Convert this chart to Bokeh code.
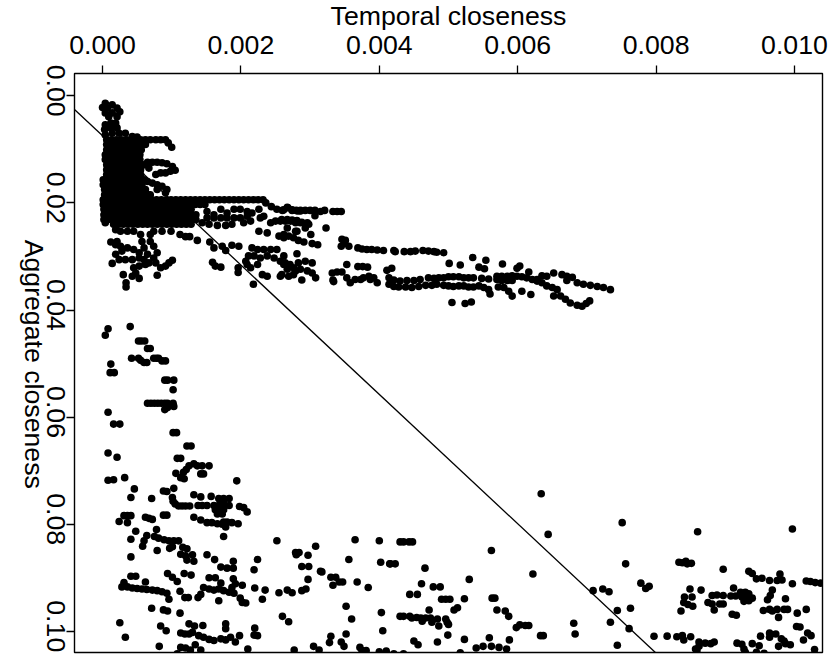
import math
from bokeh.plotting import figure
from bokeh.models import Range1d, FixedTicker, NumeralTickFormatter, CustomJSTickFormatter, Title, LinearAxis
from bokeh.embed import file_html
from bokeh.resources import INLINE

# Values: temporal closeness in 1e-5, aggregate closeness in 1e-4
top_tip = [(4,14),(0,22),(7,23),(14,17),(21,23),(25,30),(4,32),(14,32),(21,39),(9,39),(4,54),(12,51),(19,51),(3,63),(12,60),(21,60),(4,73),(14,70),(24,70),(33,70),(43,76),(50,77)]
dense_rows = [
 (82,[6,13,20,27,35,42,49,55,62,69,77,84,91]),
 (91,[6,13,20,27,35,42,49,55,62]),
 (101,[6,13,20,27,35,42,49,56]),
 (110,[4,11,18,25,33,40,47,54]),
 (119,[4,11,18,25,33,40,47,54]),
 (129,[6,13,20,27,35,42,49,56,60]),
 (138,[6,13,20,27,35,42,49,55]),
 (147,[6,13,20,27,35,42,49,55]),
 (157,[1,8,15,22,29,36,43,50,57,60]),
 (166,[1,8,15,22,29,36,43,50,57]),
 (175,[3,10,17,24,31,38,45,52,59,62]),
 (185,[3,10,17,24,31,38,45,52,59,66,69]),
 (194,[1,8,15,22,29,36,43,50,57,64,71,78,85,92,99,106,113,120,127,134,141,148,155,162,169,176,183,190,197,204,211,218,225,232]),
 (203,[1,8,15,22,29,36,43,50,57,64,71,78,85,92,99,106,113,120,127,134,141,148]),
 (212,[2,9,16,23,30,37,44,51,58,65,72,79,86,93,100,107,114,121,128]),
 (222,[2,9,16,23,30,37,44,51,58,65,72,79,86,93,100,107,114,121,128,135]),
 (231,[2,9,16,23,30,37,44,51,58,65,72,79,86,93,100,107,114,121,128,135]),
 (240,[16,23,30,37,44,51,58,65,72,79,86,93,100,107,114,121,128]),
]
tails = [(95,88),(100,96),(65,124),(72,124),(79,124),(86,125),(93,127),(101,132),(105,139),(98,141),(91,144),(84,144),(77,147),(67,135),(65,160),(72,163),(79,166),(86,169),(93,175),(91,181),(79,175),(4,237),(236,200)]
band_holes = [(151,216),(161,222),(171,212),(180,219),(190,212),(199,212),(209,216),(216,219),(226,212),(151,228),(161,228),(171,228),(180,228),(190,228),(199,228),(209,225),(144,237),(154,240),(166,242),(178,242),(187,240),(204,237),(214,234),
 (244,207),(252,212),(260,214),(267,208),(274,214),(282,215),(286,215),(233,225),(228,228),(243,237),(250,234),(257,234),(264,234),(272,234),(279,237),(286,237),(226,253),(238,256),(281,253),(255,262),(262,265)]
mid_cluster = [(216,284),(224,287),(233,287),(243,287),(252,287),(211,299),(219,299),(228,303),(238,299),(248,303),(209,315),(214,321),(207,309),(224,315),(231,334),(238,337),(257,337),(262,315),(196,330),(196,321),(218,352)]
below_band = [(74,253),(86,253),(99,253),(112,259),(120,263),(126,263),(137,270),(155,273),(161,284),(173,281),(178,289),(187,279),(197,281),(159,311),(163,318),(171,320),(74,281),(79,293),(79,335),(101,307),(96,312),(91,318),(84,321),(77,312),(67,312),(60,306),(53,303),(45,287),(36,284),(26,281),(19,278),(12,273),(21,272),(28,290),(19,296),(24,306),(33,306),(43,306),(14,313),(45,321),(53,318),(48,331),(53,341),(43,337),(30,334),(34,349),(34,357),(55,259),(57,272),(60,284),(65,296),(69,272),(53,293),(62,315),(74,303),(69,259),(45,253),(36,253),(26,253),(19,250)]
long_band = [(262,213),(268,209),(274,213),(280,214),(286,214),(293,214),(300,214),(307,214),(315,216),(321,214),(333,216),(339,216),(345,216),(307,224),(323,247),
 (259,231),(267,231),(274,232),(281,233),(288,236),(296,237),(293,247),(279,253),(267,247),(301,259),(298,240),
 (262,259),(269,262),(276,265),(283,270),(291,273),(303,276),(311,278),
 (346,268),(349,275),(345,281),(356,281),(351,270),
 (369,284),(375,286),(382,287),(389,287),(397,288),(406,289),(421,289),(423,291),(436,291),(445,291),(452,290),(463,289),(471,290),(479,291),(483,292),(493,293),
 (262,299),(257,309),(264,312),(271,315),(281,295),(283,312),(293,309),(303,312),(267,324),(276,321),(259,334),(269,337),(279,327),(286,324),(296,327),(303,331),(308,340),(288,344),(276,334)]
lower_band = [(353,315),(369,319),(376,319),(383,320),(411,326),(418,322),(501,313),(517,316),(535,302),(554,307),(544,320),(552,323),(578,314),(599,322),(603,318),(616,329),
 (332,331),(339,329),(346,329),(353,340),(334,347),(333,344),(358,349),(365,343),(373,343),(377,340),(385,337),(392,340),(397,349),(387,343),
 (414,340),(421,344),(430,346),(440,345),(450,345),(459,343),(471,340),(479,341),(486,340),(493,340),(500,338),(507,338),(515,338),(522,340),(529,340),(536,340),(548,341),(558,342),
 (414,352),(421,356),(428,357),(438,357),(447,358),(457,356),(467,354),(476,354),(483,352),(493,354),(500,355),(507,356),(515,355),(522,355),(529,357),(536,357),(544,355),(551,358),(558,362),
 (560,370),(505,386),(524,388),(533,385),
 (570,337),(577,337),(585,337),(592,336),(599,337),(606,338),(613,340),(621,343),(628,343),(635,336),(642,337),(652,331),(570,343),(577,345),(585,345),(592,345),
 (572,357),(580,358),(587,365),(592,374),(606,365),(619,371),(628,346),(635,349),(642,355),(650,358),(657,362),(652,374),(662,374),(669,380),(676,387),(686,391),(693,393),(699,388),(704,383),
 (664,334),(671,337),(679,339),(671,345),(686,349),(695,352),(705,354),(715,356),(724,358),(734,362)]
cloud_a = [(8,435),(4,447),(40,431),(52,458),(56,458),(61,458),(65,472),(69,472),(42,490),(52,490),(55,494),(60,498),(64,498),(74,490),(78,490),(81,490),(86,495),(91,495),(12,501),(11,517),(17,517),(90,531),(94,531),(103,531),(102,549),
 (65,574),(70,574),(75,574),(80,574),(85,574),(90,574),(94,574),(102,574),(103,580),(90,586),(94,582),(8,591),(16,613),(25,613),(102,629),(107,629),(122,654),(128,654),(108,677),(113,677),(8,667),(21,675),
 (125,691),(132,687),(137,691),(144,691),(154,691),(121,698),(117,703),(106,705),(113,713),(118,715),(142,706),(146,706),(32,713),(8,718),(16,717),(194,719)]
cloud_b = [(46,734),(41,750),(71,752),(88,738),(93,739),(103,733),(101,750),(102,757),(105,762),(110,766),(115,766),(120,766),(126,766),(132,745),(142,749),(157,748),(168,752),(175,752),(183,752),(138,765),(144,765),(151,765),(161,765),(168,765),(175,765),(183,765),(163,773),(170,773),(175,773),(166,781),(173,781),(170,756),(175,756),(198,767),(204,769),(209,777),
 (132,787),(142,792),(151,797),(158,797),(166,799),(173,800),(178,805),(175,796),(180,796),(187,797),(196,799),(175,823),(252,831),(31,784),(36,784),(41,784),(24,795),(36,797),(62,787),(67,789),(72,791),(88,783),(93,783)]
cloud_c = [(78,810),(48,813),(41,828),(64,821),(60,831),(58,841),(75,823),(81,826),(89,829),(96,831),(103,831),(110,831),(97,845),(101,842),(79,849),(116,843),(122,846),(113,856),(120,859),(130,857),(122,867),(132,869),(151,857),(162,866),(189,869),(224,866),(41,861),(171,880),(180,882),(189,882),(219,885),
 (94,892),(101,899),(108,907),(118,892),(128,895),(41,897),(48,897),(62,908),(31,909),(28,917),(36,917),(43,919),(50,920),(57,921),(64,922),(72,923),(79,924),(86,926),(93,929),(96,940),(112,925),(119,937),(124,937),(138,937),(142,931),
 (146,918),(154,921),(161,923),(168,921),(175,924),(183,927),(190,929),(154,900),(163,900),(171,910),(189,902),(192,911),(187,918),(202,914),(168,943),(199,938),(202,946),(207,947),(220,919),(235,923),(231,940),(255,928),(267,923),(274,928),(288,924),(294,921),(297,903),(288,879),(298,879),(315,888),(279,853),(284,853),(280,857),(297,858),(308,841)]
cloud_d = [(71,957),(88,960),(94,962),(112,966),(25,984),(84,990),(92,999),(33,1011),(125,986),(133,990),(145,989),(178,986),(178,995),(113,1003),(119,1005),(125,1005),(130,1002),(139,1008),(146,1011),(154,1015),(161,1017),(171,1014),(178,1016),(185,1011),(192,1020),(198,1008),(220,994),(219,1007),(224,1008),(82,1028),(113,1030),(120,1031),(127,1035),(134,1025),(142,1035),(210,1033),(277,1035),(305,1028),(313,1035),(108,1042),(260,972),(269,982)]
cloud_e = [(365,829),(400,831),(430,833),(435,833),(443,833),(448,833),(356,866),(402,871),(415,874),(416,874),(423,874),(466,882),(317,889),(330,899),(337,899),(342,908),(347,908),(333,914),(368,908),(384,918),(461,911),(478,917),(488,917),(530,903),(444,931),(455,931),(490,940),(496,940),(502,940),(523,939),(563,938),(567,938),(352,953),(513,956),(508,960),(472,960),(403,965),(570,960),(582,962),(587,972),(360,977),
 (430,972),(435,972),(444,972),(447,975),(454,974),(460,975),(462,981),(467,975),(474,975),(476,983),(484,977),(496,977),(498,983),(486,990),(500,987),
 (405,999),(352,1005),(330,1009),(328,1021),(345,1020),(349,1028),(372,1030),(375,1036),(381,1036),(450,1018),(456,1025),(484,1020),(499,1007),(523,1015),(559,1012),(588,1016),(540,1031),(550,1028),(562,1028),(573,1030),(584,1033),(598,993),(603,988),(611,989),(616,989),(634,743),(644,819),(562,849),(622,893),(633,1008),(637,1008),(400,1038),(410,1037),(421,1042),(435,1042),(517,1040)]
cloud_f = [(751,797),(860,814),(997,809),(756,874),(833,871),(838,872),(843,869),(845,874),(851,873),(897,884),(934,888),(939,892),(945,902),(953,901),(964,905),(975,905),(979,893),(982,904),(997,911),(1017,906),(1023,907),(1030,909),(1038,910),(778,910),(790,916),(785,920),(709,924),(723,921),(732,926),(849,921),(865,923),(841,936),(852,936),(840,946),(846,950),(853,953),(836,962),(881,933),(888,932),(897,933),(875,946),(881,949),(892,949),(897,949),(884,960),(912,919),(908,934),(915,934),
 (922,927),(929,927),(934,930),(924,936),(932,936),(939,938),(927,944),(934,943),(968,923),(965,933),(961,941),(987,939),(955,961),(964,959),(968,962),(975,959),(985,959),(990,959),(977,974),(1004,966),(1017,959),(910,968),(916,970),(1003,991),(1008,992),(1019,1003),(1024,1008),(1013,1016),
 (964,1003),(973,1005),(951,1009),(964,1011),(981,1014),(985,1018),(977,1028),(987,1023),(994,1025),(830,1010),(838,1008),(840,1016),(850,1010),(797,1009),(816,1009),(862,1020),(862,1028),(871,1022),(884,1020),(879,1023),(857,1033),(859,1036),(917,1022),(924,1024),(927,1033),(929,1039),(939,1023),(949,1027),(945,1039),(956,1041),(1029,1034),(681,985),(683,1005),(734,983),(744,961),(763,957),(761,995),(744,1026)]

line_x = [-0.000405, 0.00799]
line_y = [0.00255, 0.10395]
x_ticks = [0.0, 0.002, 0.004, 0.006, 0.008, 0.010]
y_ticks = [0.0, 0.02, 0.04, 0.06, 0.08, 0.10]
# A rotated tick label hangs from its end, so the labels' own axis is offset to centre them on the ticks.
label_shift = 0.0039
y_title_anchor = 0.0734

pairs = top_tip + tails + band_holes + mid_cluster + below_band + long_band + lower_band + cloud_a + cloud_b + cloud_c + cloud_d + cloud_e + cloud_f
for yv, xs in dense_rows:
    pairs = pairs + [(xv, yv) for xv in xs]
xs_all = [a * 1e-5 for a, b in pairs]
ys_all = [b * 1e-4 for a, b in pairs]

FONT = "Liberation Sans"
SIZE = "26.7px"
p = figure(width=830, height=658, output_backend="svg", toolbar_location=None,
           x_range=Range1d(-0.000405, 0.010405), y_range=Range1d(0.10395, -0.00416),
           x_axis_location="above", min_border_left=74, min_border_right=8,
           min_border_top=72, min_border_bottom=6)
p.grid.visible = False
p.outline_line_color = "#000000"
p.outline_line_width = 1.4
p.background_fill_color = "#ffffff"

p.line(line_x, line_y, line_color="#000000", line_width=1.3)
p.scatter(xs_all, ys_all, size=7.6, color="#000000", line_width=0)

p.title = Title(text="Temporal closeness", align="center", vertical_align="top", standoff=0,
                text_line_height=0.5,
                text_font=FONT, text_font_size=SIZE, text_font_style="normal", text_color="#000000")

ax = p.xaxis[0]
ax.ticker = FixedTicker(ticks=x_ticks)
ax.formatter = NumeralTickFormatter(format="0.000")
ax.major_label_text_font = FONT
ax.major_label_text_font_size = SIZE
ax.major_label_text_color = "#000000"
ax.major_label_standoff = 12
ax.major_tick_out = 8
ax.major_tick_in = 0
ax.minor_tick_out = 0
ax.minor_tick_in = 0
ax.axis_line_color = None
ax.major_tick_line_width = 1.3
ax.major_tick_line_color = "#000000"

ay = p.yaxis[0]
ay.ticker = FixedTicker(ticks=y_ticks)
ay.formatter = CustomJSTickFormatter(code="return ''")
ay.major_label_text_font_size = "1px"
ay.major_label_standoff = 0
ay.major_tick_out = 8
ay.major_tick_in = 0
ay.minor_tick_out = 0
ay.minor_tick_in = 0
ay.axis_line_color = None
ay.major_tick_line_width = 1.3
ay.major_tick_line_color = "#000000"

labels_axis = LinearAxis(ticker=FixedTicker(ticks=[t + label_shift for t in y_ticks]),
                         formatter=CustomJSTickFormatter(code="return (tick - %r).toFixed(2)" % label_shift),
                         major_label_text_font=FONT, major_label_text_font_size=SIZE,
                         major_label_text_color="#000000", major_label_orientation=-math.pi / 2,
                         major_label_standoff=11, major_tick_out=0, major_tick_in=0,
                         minor_tick_out=0, minor_tick_in=0, axis_line_color=None)
p.add_layout(labels_axis, "left")

title_axis = LinearAxis(ticker=FixedTicker(ticks=[y_title_anchor]),
                        major_label_overrides={y_title_anchor: "Aggregate closeness"},
                        major_label_text_font=FONT, major_label_text_font_size=SIZE,
                        major_label_text_color="#000000", major_label_orientation=-math.pi / 2,
                        major_label_standoff=1, major_tick_out=0, major_tick_in=0,
                        minor_tick_out=0, minor_tick_in=0, axis_line_color=None)
p.add_layout(title_axis, "left")

open("out.html", "w").write(file_html(p, INLINE))
